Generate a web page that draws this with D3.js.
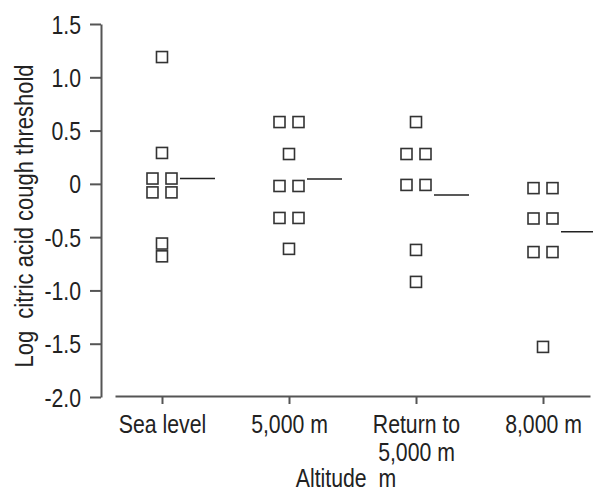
<!DOCTYPE html>
<html>
<head>
<meta charset="utf-8">
<script src="https://cdn.jsdelivr.net/npm/d3@7"></script>
<style>
  body { margin: 0; background: #fff; }
  svg text { font-family: 'Liberation Sans', Arial, sans-serif; fill: #222; }
</style>
</head>
<body>
<div id="chart"></div>
<script>
// Data
const groups = ['Sea level', '5,000 m', 'Return to|5,000 m', '8,000 m'];
const seaLevel = [1.19, 0.29, 0.05, 0.05, -0.08, -0.08, -0.56, -0.68];
const alt5000 = [0.58, 0.58, 0.28, -0.02, -0.02, -0.32, -0.32, -0.61];
const return5000 = [0.58, 0.28, 0.28, -0.01, -0.01, -0.62, -0.92];
const alt8000 = [-0.04, -0.04, -0.325, -0.325, -0.64, -0.64, -1.53];
const means = [0.05, 0.045, -0.105, -0.45];
const yTicks = [1.5, 1.0, 0.5, 0, -0.5, -1.0, -1.5, -2.0];

const series = [seaLevel, alt5000, return5000, alt8000];

const width = 593;
const height = 491;
const squeeze = 0.85; // the original uses a narrow face

const svg = d3
  .select('#chart')
  .append('svg')
  .attr('width', width)
  .attr('height', height);

// scales
const x = d3.scalePoint().domain(groups).range([115, 590]).padding(0.37);
const y = d3.scaleLinear().domain([-2, 1.5]).range([397, 24]);

// plain hyphen for negatives, like the original
const fmt = d => (d === 0 ? '0' : d3.format('.1f')(d).replace('\u2212', '-'));

// Y axis
const yAxis = svg
  .append('g')
  .attr('transform', 'translate(101,0)')
  .call(d3.axisLeft(y).tickValues(yTicks).tickSize(11).tickSizeOuter(0).tickPadding(9).tickFormat(fmt));
yAxis.selectAll('path, line').attr('stroke', '#555').attr('stroke-width', 2);
yAxis
  .selectAll('text')
  .attr('font-size', 25)
  .attr('dy', '0.36em')
  .attr('x', 0)
  .attr('transform', `translate(-20,0) scale(${squeeze},1)`);

// X axis
const xAxis = svg
  .append('g')
  .attr('transform', 'translate(0,396)')
  .call(d3.axisBottom(x).tickSize(8).tickSizeOuter(0).tickFormat(''));
xAxis.selectAll('path, line').attr('stroke', '#555').attr('stroke-width', 2);

xAxis
  .selectAll('.tick')
  .append('text')
  .attr('font-size', 25)
  .attr('text-anchor', 'middle')
  .attr('transform', `scale(${squeeze},1)`)
  .selectAll('tspan')
  .data(d => d.split('|'))
  .join('tspan')
  .attr('x', 0)
  .attr('y', (d, i) => 37 + i * 28)
  .text(d => d);

// axis titles
svg
  .append('text')
  .attr('transform', `translate(346,487) scale(${squeeze},1)`)
  .attr('text-anchor', 'middle')
  .attr('font-size', 25)
  .attr('xml:space', 'preserve')
  .text('Altitude  m');

svg
  .append('text')
  .attr('transform', 'translate(33,216) rotate(-90) scale(0.88,1)')
  .attr('text-anchor', 'middle')
  .attr('font-size', 25)
  .attr('xml:space', 'preserve')
  .text('Log  citric acid cough threshold');

// points: equal values sit side by side
const side = 9.5;
const box = 11;
series.forEach((vals, gi) => {
  const counts = d3.rollup(vals, v => v.length, d => d);
  const seen = new Map();
  const pts = vals.map(v => {
    const k = seen.get(v) || 0;
    seen.set(v, k + 1);
    const n = counts.get(v);
    const off = n > 1 ? (k - (n - 1) / 2) * 2 * side : 0;
    return { v, off };
  });

  svg
    .append('g')
    .selectAll('rect')
    .data(pts)
    .join('rect')
    .attr('x', d => x(groups[gi]) + d.off - box / 2)
    .attr('y', d => y(d.v) - box / 2)
    .attr('width', box)
    .attr('height', box)
    .attr('fill', 'none')
    .attr('stroke', '#333')
    .attr('stroke-width', 1.6);
});

// group means
svg
  .append('g')
  .selectAll('line')
  .data(means)
  .join('line')
  .attr('x1', (d, i) => x(groups[i]) + 18)
  .attr('x2', (d, i) => x(groups[i]) + 53)
  .attr('y1', d => y(d))
  .attr('y2', d => y(d))
  .attr('stroke', '#222')
  .attr('stroke-width', 1.6);
</script>
</body>
</html>
